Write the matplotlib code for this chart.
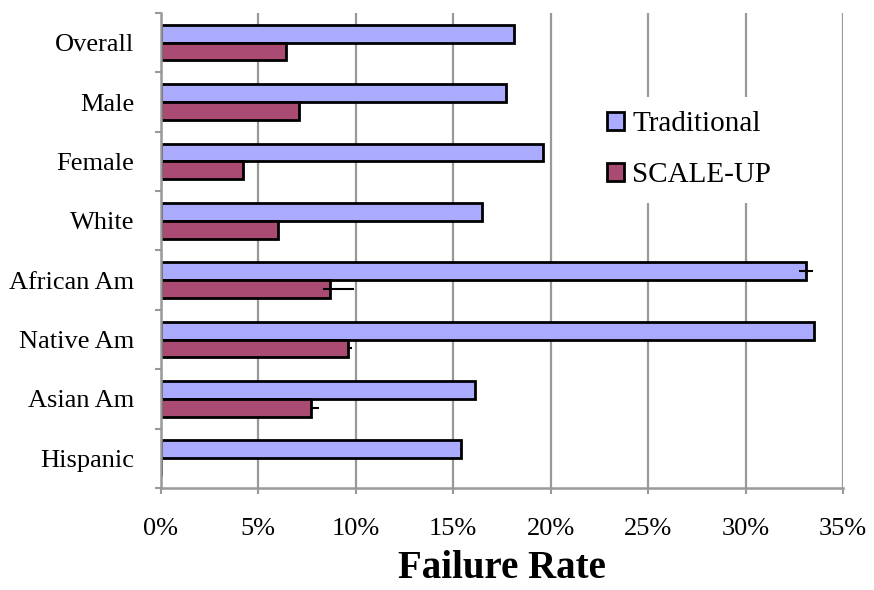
import numpy as np
import matplotlib.pyplot as plt
from matplotlib.ticker import PercentFormatter, FixedLocator

# Datos del grafico (tasa de reprobacion, %)
grupos = ['Overall', 'Male', 'Female', 'White', 'African Am',
          'Native Am', 'Asian Am', 'Hispanic']
tradicional = [18.1, 17.7, 19.6, 16.5, 33.1, 33.5, 16.1, 15.4]
scaleup = [6.4, 7.1, 4.2, 6.0, 8.7, 9.6, 7.7, 0.0]
err_trad_menos = [0, 0, 0, 0, 0.37, 0, 0, 0.05]
err_trad_mas = [0, 0, 0, 0, 0.37, 0, 0, 0.05]
err_su_menos = [0, 0, 0, 0, 0.4, 0, 0, 0]
err_su_mas = [0, 0, 0, 0, 1.2, 0.23, 0.4, 0]

plt.rcParams['font.family'] = ['Liberation Serif', 'DejaVu Serif']

fig = plt.figure(figsize=(8.74, 5.9), dpi=100)
ax = fig.add_axes([0.184, 0.173, 0.7805, 0.805])

y = np.arange(len(grupos))
alto = 0.3
ax.barh(y - alto / 2, tradicional, height=alto, color='#AAAAFF',
        edgecolor='black', linewidth=2.0, label='Traditional', zorder=3,
        xerr=[err_trad_menos, err_trad_mas],
        error_kw=dict(ecolor='black', elinewidth=1.5, capsize=0, zorder=4))
ax.barh(y + alto / 2, scaleup, height=alto, color='#AA4B74',
        edgecolor='black', linewidth=2.0, label='SCALE-UP', zorder=3,
        xerr=[err_su_menos, err_su_mas],
        error_kw=dict(ecolor='black', elinewidth=1.5, capsize=0, zorder=4))

ax.set_xlim(0, 35)
ax.set_ylim(len(grupos) - 0.5, -0.5)
ax.xaxis.set_major_locator(FixedLocator(np.arange(0, 36, 5)))
ax.xaxis.set_major_formatter(PercentFormatter(100, decimals=0))
ax.set_yticks(y)
ax.set_yticklabels(grupos)
ax.set_yticks(np.arange(-0.5, len(grupos), 1), minor=True)
ax.tick_params(axis='y', which='major', length=0, labelsize=19, pad=19)
ax.tick_params(axis='y', which='minor', length=4.5, width=1.5, color='#999999')
ax.tick_params(axis='x', length=4.5, width=1.5, color='#999999',
               labelsize=19, pad=17)

ax.grid(axis='x', color='#999999', linewidth=1.6, zorder=0)
for lado in ['top', 'right']:
    ax.spines[lado].set_visible(False)
for lado in ['left', 'bottom']:
    ax.spines[lado].set_color('#999999')
    ax.spines[lado].set_linewidth(1.8)
    ax.spines[lado].set_zorder(6)

ax.set_xlabel('Failure Rate', fontsize=28, fontweight='bold', labelpad=7)

leg = ax.legend(loc='center left', bbox_to_anchor=(0.612, 0.712),
                fontsize=21, frameon=True, framealpha=1, facecolor='white',
                edgecolor='none', handlelength=0.55, handleheight=0.55,
                handletextpad=0.3, labelspacing=0.85, borderpad=0.5)
leg.set_zorder(5)

plt.savefig('out.png', dpi=100)
